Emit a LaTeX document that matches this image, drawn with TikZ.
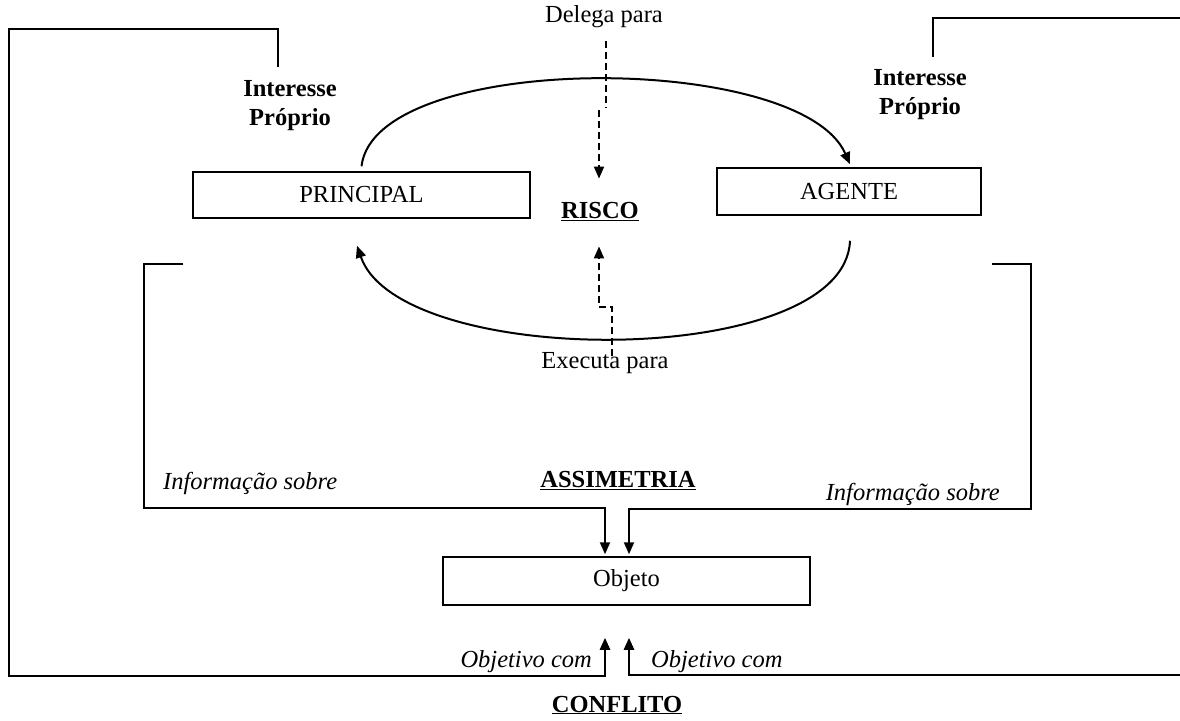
\documentclass[tikz,border=0pt]{standalone}
\usepackage{fontspec}
\setmainfont{Liberation Serif}
\usetikzlibrary{arrows.meta,calc}
\begin{document}
\begin{tikzpicture}[x=1pt,y=-1pt,
  txt/.style={inner sep=0pt, align=center, font=\fontsize{24.5}{29}\selectfont},
  btxt/.style={txt, font=\fontsize{24.5}{29}\selectfont\bfseries},
  itxt/.style={txt, font=\fontsize{24.5}{29}\selectfont\itshape},
  box/.style={draw, line width=1.5pt, inner sep=0pt, font=\fontsize{24.5}{29}\selectfont},
  frame/.style={line width=2.4pt},
  link/.style={line width=2pt},
  tip/.style={-{Triangle[length=12pt,width=10pt]}},
  dashlink/.style={line width=1.8pt, dash pattern=on 7pt off 4pt},
]
\useasboundingbox (0,0) rectangle (1180,720);

% boxes
\node[box, minimum width=337pt, minimum height=46pt] (principal) at (361.5,195) {PRINCIPAL};
\node[box, minimum width=264pt, minimum height=47pt] (agente) at (849,191.5) {AGENTE};
\node[box, minimum width=367pt, minimum height=48pt] (objeto) at (626.5,581) {Objeto};

% labels
\node[txt] (delega) at (604,17) {Delega para};
\node[txt] (executa) at (605,363) {Executa para};
\node[btxt] (risco) at (600,212) {\underline{RISCO}};
\node[btxt] (assimetria) at (618,481) {\underline{ASSIMETRIA}};
\node[btxt] (conflito) at (617,705) {\underline{CONFLITO}};
\node[btxt] (intp) at (290,106) {Interesse\\Próprio};
\node[btxt] (inta) at (920,95) {Interesse\\Próprio};
\node[itxt, anchor=west] (infop) at (163,483) {Informação sobre};
\node[itxt, anchor=east] (infoa) at (1000,494) {Informação sobre};
\node[itxt, anchor=east] (objp) at (592,662) {Objetivo com};
\node[itxt, anchor=west] (obja) at (651,662) {Objetivo com};

% delegation and execution arcs
\draw[link,tip] ($(principal.north)+(0,-5)$) .. controls (375,51) and (800,51) .. ($(agente.north)+(1,-3)$);
\draw[link,tip] ($(agente.south)+(1,25)$) .. controls (845,370) and (400,370) .. ($(principal.south)+(-4.5,27)$);

% dashed arrows towards the risk
\draw[dashlink,tip] ($(delega.south)+(2,13)$) -- ++(0,67) ++(-7,2) -- ($(risco.north)+(-1,-24)$);
\draw[dashlink,tip] ($(executa.north)+(7,4)$) -- ++(0,-49) -- ++(-13,0) -- ($(risco.south)+(-1,25)$);

% information asymmetry brackets
\coordinate (ip) at (183,264);
\coordinate (ia) at (992,264);
\draw[link,tip] (ip) -- (144,264) -- (144,508) -- (605,508) -- ($(objeto.north)+(-21.5,-2)$);
\draw[link,tip] (ia) -- (1031,264) -- (1031,509) -- (629,509) -- ($(objeto.north)+(2.5,-2)$);

% conflict of interest frames
\coordinate (cp) at (278,67);
\coordinate (ca) at (933,57);
\draw[frame,tip] (cp) -- (278,29) -- (9,29) -- (9,676) -- (605,676) -- ($(objeto.south)+(-21.5,32)$);
\draw[frame] (ca) -- (933,18) -- (1181,18);
\draw[frame,tip] (1181,675) -- (629,675) -- ($(objeto.south)+(2.5,32)$);
\end{tikzpicture}
\end{document}
